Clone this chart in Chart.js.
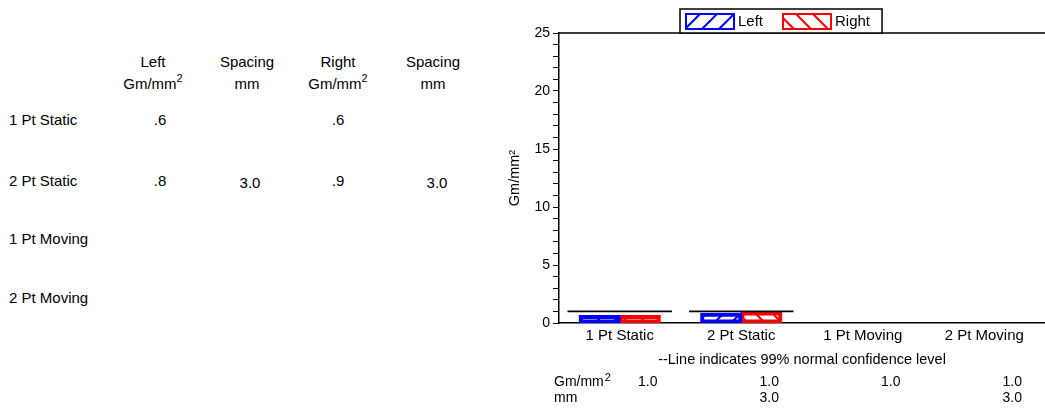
<!DOCTYPE html>
<html>
<head>
<meta charset="utf-8">
<script src="https://cdn.jsdelivr.net/npm/chart.js@4"></script>
<style>
  body { margin: 0; background: #fff; font-family: "Liberation Sans", Arial, sans-serif; color: #000; }
  #wrap { position: relative; width: 1045px; height: 409px; overflow: hidden; }
  #graph { position: absolute; left: 0; top: 0; }
  .c { position: absolute; white-space: nowrap; transform: translate(-50%, -50%); line-height: 1; font-size: 15px; }
  .l { position: absolute; white-space: nowrap; transform: translateY(-50%); line-height: 1; font-size: 15px; }
  sup { font-size: 11px; line-height: 0; position: relative; top: -1px; }
</style>
</head>
<body>
<div id="wrap">
  <div id="table"></div>
  <canvas id="graph" width="1045" height="409"></canvas>
</div>
<script>
// categories and values
const categories = ['1 Pt Static', '2 Pt Static', '1 Pt Moving', '2 Pt Moving'];
const leftGm = [0.6, 0.8, null, null];
const leftSpacing = [null, 3.0, null, null];
const rightGm = [0.6, 0.9, null, null];
const rightSpacing = [null, 3.0, null, null];
const confLine = [1.0, 1.0, null, null];   // 99% line, only drawn where there is data
const normGm = [1.0, 1.0, 1.0, 1.0];
const normMm = [null, 3.0, null, 3.0];
const headers = [['Left', 'Gm/mm<sup>2</sup>'], ['Spacing', 'mm'], ['Right', 'Gm/mm<sup>2</sup>'], ['Spacing', 'mm']];

const FONT = '"Liberation Sans", Arial, sans-serif';

function fmt(v) {
  return v.toFixed(1).replace(/^0\./, '.');
}

// left hand table
let table = document.getElementById('table');
let html = '';
const headX = [153, 247, 338, 433];
const valX = [160, 250, 338, 437];
const rowY = [119, 180, 238, 297];
headers.forEach((h, j) => {
  html += `<div class="c" style="left:${headX[j]}px;top:61px">${h[0]}</div>`;
  html += `<div class="c" style="left:${headX[j]}px;top:83px">${h[1]}</div>`;
});
const cols = [leftGm, leftSpacing, rightGm, rightSpacing];
categories.forEach((cat, i) => {
  html += `<div class="l" style="left:9px;top:${rowY[i]}px">${cat}</div>`;
  cols.forEach((col, j) => {
    if (col[i] != null) {
      const dy = (j % 2 == 1) ? 2 : 0;
      html += `<div class="c" style="left:${valX[j]}px;top:${rowY[i] + dy}px">${fmt(col[i])}</div>`;
    }
  });
});
table.innerHTML = html;

// hatch fills
function hatch(color, forward) {
  const s = 17;
  const c = document.createElement('canvas');
  c.width = s; c.height = s;
  const g = c.getContext('2d');
  g.strokeStyle = color;
  g.lineWidth = 2;
  g.beginPath();
  if (forward) {
    g.moveTo(0, s); g.lineTo(s, 0);
    g.moveTo(-2, 2); g.lineTo(2, -2);
    g.moveTo(s - 2, s + 2); g.lineTo(s + 2, s - 2);
  } else {
    g.moveTo(0, 0); g.lineTo(s, s);
    g.moveTo(-2, s - 2); g.lineTo(2, s + 2);
    g.moveTo(s - 2, -2); g.lineTo(s + 2, 2);
  }
  g.stroke();
  return g.createPattern(c, 'repeat');
}

const blueHatch = hatch('#0000ff', true);
const redHatch = hatch('#ff0000', false);

// legend box, top border and the rows under the chart
const extras = {
  id: 'extras',
  afterDraw(chart) {
    const { ctx, chartArea } = chart;
    const xs = chart.scales.x;
    ctx.save();

    // top border of plot
    ctx.strokeStyle = '#000';
    ctx.lineWidth = 1.5;
    ctx.beginPath();
    ctx.moveTo(chartArea.left, chartArea.top);
    ctx.lineTo(chartArea.right, chartArea.top);
    ctx.stroke();

    // legend
    ctx.font = '15px ' + FONT;
    ctx.textBaseline = 'middle';
    ctx.textAlign = 'left';
    const items = chart.data.datasets.filter(d => d.label !== '99%');
    const bx = chartArea.left + 121, by = 9, bh = chartArea.top - by;
    let x = bx + 5;
    const pos = [];
    items.forEach((d, k) => {
      pos.push(x);
      x += 50 + 3 + ctx.measureText(d.label).width + (k < items.length - 1 ? 19 : 12);
    });
    ctx.fillStyle = '#fff';
    ctx.fillRect(bx, by, x - bx, bh);
    ctx.lineWidth = 1.5;
    ctx.strokeStyle = '#000';
    ctx.strokeRect(bx, by, x - bx, bh);
    items.forEach((d, k) => {
      ctx.fillStyle = d.backgroundColor;
      ctx.fillRect(pos[k], by + 4, 50, 17);
      ctx.lineWidth = 2;
      ctx.strokeStyle = d.borderColor;
      ctx.strokeRect(pos[k] + 1, by + 5, 48, 15);
      ctx.fillStyle = '#000';
      ctx.fillText(d.label, pos[k] + 53, by + 13);
    });

    // rows under the axis
    ctx.font = '14px ' + FONT;
    ctx.fillStyle = '#000';
    const y1 = 382, y2 = 398;
    ctx.fillText('Gm/mm', 554, y1);
    const w = ctx.measureText('Gm/mm').width;
    ctx.font = '11px ' + FONT;
    ctx.fillText('2', 554 + w + 1, y1 - 4);
    ctx.font = '14px ' + FONT;
    ctx.fillText('mm', 554, y2);
    ctx.textAlign = 'center';
    normGm.forEach((v, i) => {
      if (v != null) ctx.fillText(v.toFixed(1), xs.getPixelForValue(i) + 28, y1);
    });
    normMm.forEach((v, i) => {
      if (v != null) ctx.fillText(v.toFixed(1), xs.getPixelForValue(i) + 28, y2);
    });
    ctx.restore();
  }
};

let ctx = document.getElementById('graph');

const data = {
  labels: categories,
  datasets: [
    {
      // thin floating bar standing in for the confidence line
      label: '99%',
      data: confLine.map(v => (v == null ? null : [v - 0.08, v + 0.08])),
      grouped: false,
      barPercentage: 0.86,
      categoryPercentage: 1.0,
      backgroundColor: '#000',
      borderWidth: 0,
      order: 0
    },
    {
      label: 'Left',
      data: leftGm,
      backgroundColor: blueHatch,
      borderColor: '#0000ff',
      borderWidth: 2,
      borderSkipped: false,
      inflateAmount: 1,
      order: 1
    },
    {
      label: 'Right',
      data: rightGm,
      backgroundColor: redHatch,
      borderColor: '#ff0000',
      borderWidth: 2,
      borderSkipped: false,
      inflateAmount: 1,
      order: 1
    }
  ]
};

const config = {
  type: 'bar',
  data: data,
  plugins: [extras],
  options: {
    responsive: false,
    animation: false,
    events: [],
    barPercentage: 1.0,
    categoryPercentage: 0.66,
    layout: { padding: { left: 498, top: 33, right: 0, bottom: 40 } },
    plugins: {
      legend: { display: false },
      tooltip: { enabled: false }
    },
    scales: {
      x: {
        grid: { display: false, drawTicks: false },
        border: { color: '#000', width: 1.5 },
        ticks: { color: '#000', font: { family: FONT, size: 15 }, padding: 4, maxRotation: 0 },
        title: {
          display: true,
          text: '--Line indicates 99% normal confidence level',
          color: '#000',
          font: { family: FONT, size: 14.5 },
          padding: { top: 0, bottom: 0 }
        },
        afterFit: (s) => { s.height = 46; }
      },
      y: {
        min: 0,
        max: 25,
        grid: { drawOnChartArea: false, tickLength: 6, tickColor: '#000', tickWidth: 1 },
        border: { color: '#000', width: 1.5 },
        ticks: {
          stepSize: 1,
          autoSkip: false,
          padding: 3,
          color: '#000',
          font: { family: FONT, size: 14 },
          callback: (v) => (v % 5 === 0 ? v : '')
        },
        title: {
          display: true,
          text: 'Gm/mm²',
          color: '#000',
          font: { family: FONT, size: 14.5 },
          padding: { top: 8, bottom: 0 }
        },
        afterFit: (s) => { s.width = 61; }
      }
    }
  }
};

const graph1 = new Chart(ctx, config);
</script>
</body>
</html>
